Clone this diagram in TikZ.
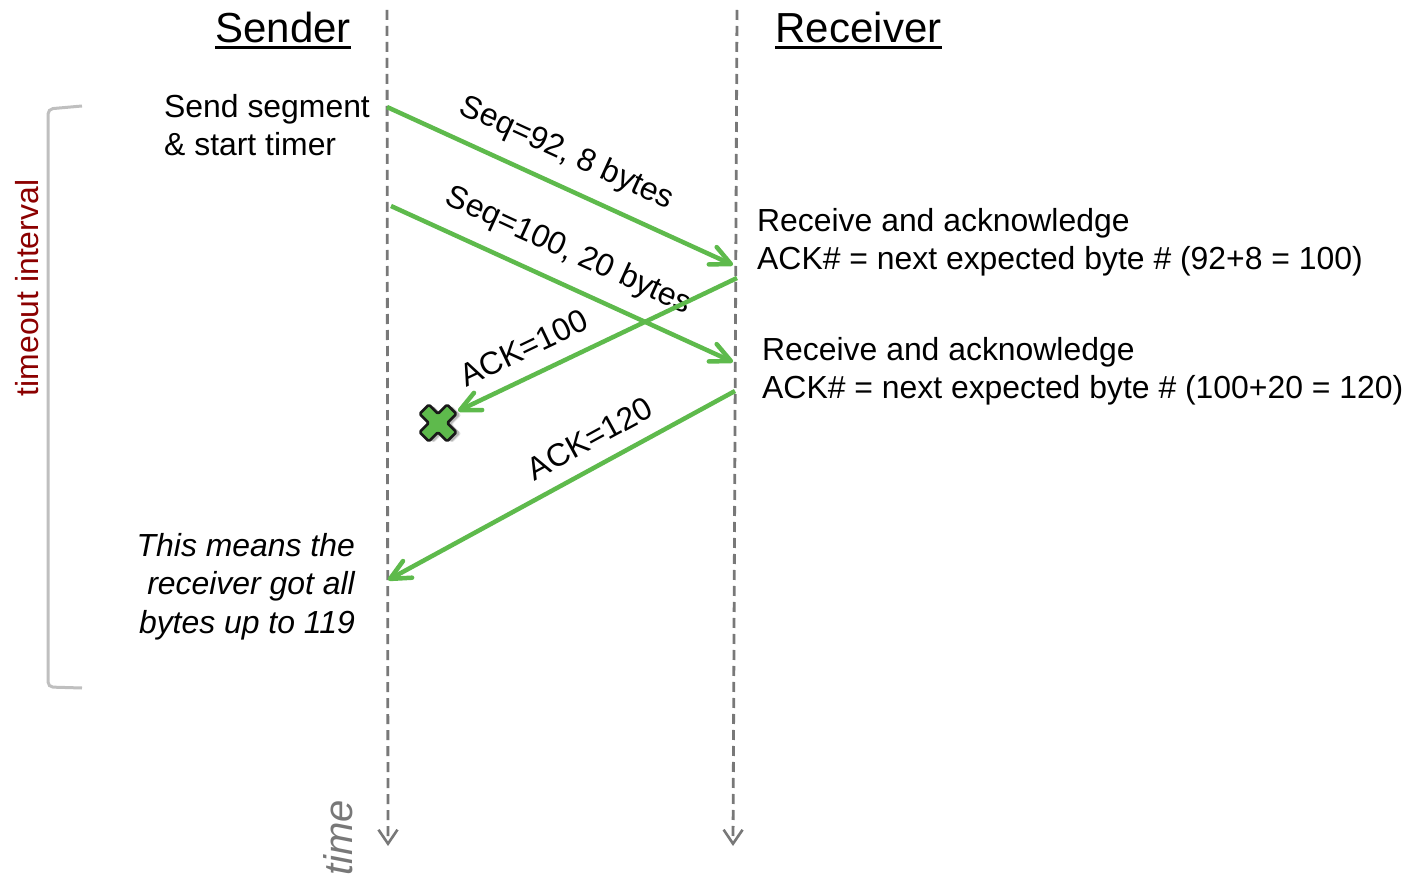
\documentclass[tikz,border=0pt]{standalone}
\usepackage{fontspec}
\setmainfont{Liberation Sans}
\usetikzlibrary{arrows.meta}

\definecolor{msggreen}{RGB}{94,186,76}
\definecolor{lifegray}{RGB}{120,120,120}
\definecolor{bracegray}{RGB}{191,191,191}
\definecolor{timeoutred}{RGB}{139,0,0}
\definecolor{crossline}{RGB}{25,25,25}

% plus sign, turned 45 degrees by the enclosing scope
\newcommand\crossoutline{(-6.5,-19.5) -- (6.5,-19.5) -- (6.5,-6.5) -- (19.5,-6.5) -- (19.5,6.5) -- (6.5,6.5) -- (6.5,19.5) -- (-6.5,19.5) -- (-6.5,6.5) -- (-19.5,6.5) -- (-19.5,-6.5) -- (-6.5,-6.5) -- cycle}

\begin{document}
\begin{tikzpicture}[x=1pt,y=-1pt,
  txt/.style={inner sep=0pt, font=\fontsize{31.9}{38.5}\selectfont},
  itxt/.style={inner sep=0pt, font=\fontsize{31.9}{38.5}\selectfont\itshape},
  title/.style={inner sep=0pt, font=\fontsize{42}{50}\selectfont},
  lifeline/.style={draw=lifegray, line width=2.8pt, dash pattern=on 10pt off 6pt,
    -{Straight Barb[length=14pt,width=19pt,line width=2.6pt]}},
  msg/.style={draw=msggreen, line width=4.5pt,
    -{Straight Barb[length=20pt,width=19pt,round]}},
  lbl/.style={txt, sloped, above=15pt},
]
\useasboundingbox (0,0) rectangle (1405,877);

% time lines
\coordinate (stop) at (387,10);
\coordinate (sbot) at (388,846);
\coordinate (rtop) at (737,10);
\coordinate (rbot) at (733,846);
\draw[lifeline] (stop) -- (sbot);
\draw[lifeline] (rtop) -- (rbot);

% titles
\node[title, anchor=base] (sendertitle) at (283,43) {Sender};
\node[title, anchor=base] (receivertitle) at (858.5,43) {Receiver};
\draw[line width=2.6pt] ([yshift=-4.5pt]sendertitle.base west) -- ([yshift=-4.5pt]sendertitle.base east);
\draw[line width=2.6pt] ([yshift=-4.5pt]receivertitle.base west) -- ([yshift=-4.5pt]receivertitle.base east);

% timeout bracket
\draw[bracegray, line width=3pt, rounded corners=5pt] (82,106) -- (48,109) -- (48,687) -- (82,688);
\node[txt, text=timeoutred, rotate=90] (timeout) at (27,288) {timeout interval};
\node[inner sep=0pt, font=\fontsize{40}{48}\selectfont\itshape, text=lifegray, rotate=90] (timelabel) at (338,838) {time};

% notes
\node[txt, anchor=north west, align=left] (sendnote) at (164,94) {Send segment\\\& start timer};
\node[txt, anchor=north west, align=left] (ackonenote) at (757,208) {Receive and acknowledge\\ACK\# = next expected byte \# (92+8 = 100)};
\node[txt, anchor=north west, align=left] (acktwonote) at (762,337) {Receive and acknowledge\\ACK\# = next expected byte \# (100+20 = 120)};
\node[itxt, anchor=north east, align=right] (meaning) at (355,533) {This means the\\receiver got all\\bytes up to 119};

% message end points
\coordinate (segone) at (387,107);
\coordinate (segonearr) at (733,265);
\coordinate (segtwo) at (391,206);
\coordinate (segtwoarr) at (733,362);
\coordinate (ackone) at (737,278);
\coordinate (ackonetip) at (458,411);
\coordinate (acktwo) at (735,391);
\coordinate (acktwoarr) at (388,580);
\coordinate (lost) at (438,423);

% messages
\draw[msg] (segone) -- node[lbl, pos=0.48] (seqone) {Seq=92, 8 bytes} (segonearr);
\draw[msg] (segtwo) -- node[lbl, pos=0.48] (seqtwo) {Seq=100, 20 bytes} (segtwoarr);
\draw[msg] (ackone) -- node[lbl, pos=0.72] (ackonelbl) {ACK=100} (ackonetip);
\draw[msg] (acktwo) -- node[txt, sloped, above=14pt, pos=0.38] (acktwolbl) {ACK=120} (acktwoarr);

% lost acknowledgement
\begin{scope}[shift={(lost)}, rotate=45]
  \fill[black, opacity=0.12, shift={(2.5,4.5)}, rounded corners=2pt] \crossoutline;
  \fill[black, opacity=0.18, shift={(2,3.5)}, rounded corners=1.5pt] \crossoutline;
  \filldraw[fill=msggreen, draw=crossline, line width=2.6pt, line join=round, rounded corners=1.5pt] \crossoutline;
\end{scope}
\end{tikzpicture}
\end{document}
